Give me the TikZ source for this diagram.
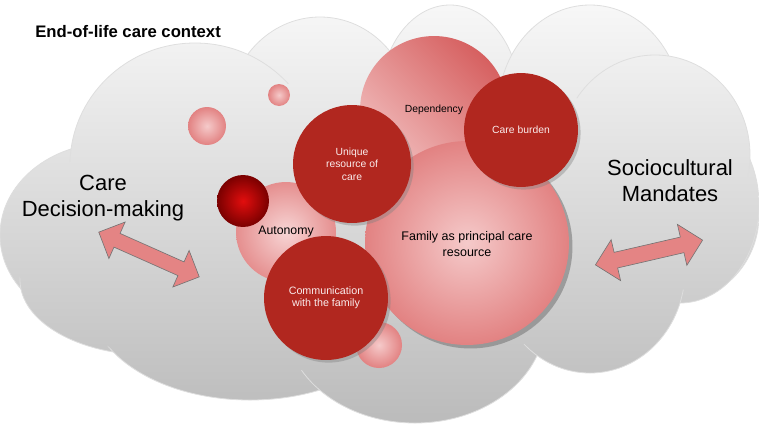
\documentclass[tikz,border=0pt]{standalone}
\usepackage{fontspec}
\setmainfont{Liberation Sans}
\usetikzlibrary{shadows}

\definecolor{cloudtop}{RGB}{248,248,248}
\definecolor{cloudbot}{RGB}{186,186,186}
\definecolor{lobeline}{RGB}{222,222,222}
\definecolor{discred}{RGB}{177,39,31}
\definecolor{disctext}{RGB}{250,236,236}
\definecolor{pinklite}{RGB}{245,202,202}
\definecolor{pinkedge}{RGB}{226,130,130}
\definecolor{deplite}{RGB}{242,192,192}
\definecolor{depdark}{RGB}{214,96,96}
\definecolor{spherecore}{RGB}{226,14,14}
\definecolor{sphereedge}{RGB}{122,0,0}
\definecolor{arrowlite}{RGB}{247,208,208}
\definecolor{arrowdark}{RGB}{228,132,132}

\tikzset{
  lobe/.style={draw=lobeline, line width=.45pt},
  rad/.style={minimum size=#1*0.04cm},
  disc/.style={circle, inner sep=0pt, align=center},
  darkdisc/.style={disc, fill=discred, text=disctext,
    drop shadow={opacity=.4, shadow xshift=1.5pt, shadow yshift=-1.5pt}},
  pinkdisc/.style={disc, inner color=pinklite, outer color=pinkedge},
  dblarrow/.style={draw=black!55, line width=.35pt,
    left color=arrowdark, middle color=arrowlite, right color=arrowdark},
  mandate/.style={align=center, inner sep=0pt, font=\fontsize{12.5}{14.7}\selectfont},
  smalltxt/.style={font=\fontsize{5.9}{7.1}\selectfont},
}

% one lobe of the cloud, shaded with the common gradient
\newcommand\cloudlobe[4]{%
  \begin{scope}
    \clip (#1,#2) ellipse [x radius=#3, y radius=#4];
    \shade[top color=cloudtop, bottom color=cloudbot] (0,0) rectangle (759,430);
  \end{scope}
  \draw[lobe] (#1,#2) ellipse [x radius=#3, y radius=#4];}
% same, without outline (fills the inside)
\newcommand\cloudfill[4]{%
  \begin{scope}
    \clip (#1,#2) ellipse [x radius=#3, y radius=#4];
    \shade[top color=cloudtop, bottom color=cloudbot] (0,0) rectangle (759,430);
  \end{scope}}

\begin{document}
\begin{tikzpicture}[x=0.02cm, y=-0.02cm]
\useasboundingbox (0,0) rectangle (759,430);

% cloud
\cloudlobe{320}{115}{92}{98}
\cloudlobe{450}{100}{70}{95}
\cloudlobe{590}{110}{92}{105}
\cloudlobe{110}{235}{110}{92}
\cloudlobe{195}{165}{125}{122}
\cloudlobe{680}{215}{79}{85}
\cloudlobe{680}{205}{79}{98}
\cloudlobe{655}{155}{95}{100}
\cloudlobe{150}{280}{130}{75}
\cloudlobe{250}{300}{160}{100}
\cloudlobe{415}{320}{130}{103}
\cloudlobe{590}{270}{95}{103}
\cloudfill{400}{215}{320}{140}
\cloudfill{110}{240}{100}{85}
\cloudfill{125}{215}{60}{70}
\cloudfill{690}{205}{60}{85}
\cloudfill{240}{320}{150}{55}

\node[font=\bfseries\fontsize{9.5}{11}\selectfont, anchor=base west, inner sep=0pt]
  (context) at (35,37) {End-of-life care context};
\node[mandate] (decision) at (103,198.5) {Care\\Decision-making};
\node[mandate] (mandates) at (670,181) {Sociocultural\\Mandates};

% circles
\node[disc, rad=74, top color=depdark, bottom color=deplite, shading angle=-45,
  smalltxt] (dependency) at (434,110) {Dependency};
\node[pinkdisc, rad=23] (bubble-low) at (379,345) {};
\node[disc, rad=102, inner color=pinklite, outer color=pinkedge,
  drop shadow={opacity=.65, shadow xshift=2pt, shadow yshift=-2pt},
  font=\fontsize{7.1}{9}\selectfont] (family) at (467,243)
  {\\[-3pt]Family as principal care\\resource};
\node[disc, rad=50, inner color=pinklite!80!white, outer color=pinkedge!90!white,
  font=\fontsize{7}{8}\selectfont] (autonomy) at (286,232) {Autonomy};
\node[disc, rad=26, inner color=spherecore, outer color=sphereedge] (core) at (243,201) {};
\node[darkdisc, rad=59, smalltxt] (unique) at (352,164) {Unique\\resource of\\care};
\node[darkdisc, rad=62, font=\fontsize{6.1}{6.9}\selectfont] (communication) at (326,298)
  {Communication\\with the family};
\node[darkdisc, rad=57, smalltxt] (burden) at (521,130) {Care burden};
\node[pinkdisc, rad=11] (bubble-top) at (279,95) {};
\node[pinkdisc, rad=19] (bubble-left) at (207,126) {};

% double arrows
\shade[dblarrow, shift={(149,254.5)}, rotate=-24]
  (-55,0) -- (-35,-20) -- (-35,-7.5) -- (35,-7.5) -- (35,-20) -- (55,0)
  -- (35,20) -- (35,7.5) -- (-35,7.5) -- (-35,20) -- cycle;
\shade[dblarrow, shift={(649,252.5)}, rotate=13]
  (-55,0) -- (-34,-21) -- (-34,-8) -- (34,-8) -- (34,-21) -- (55,0)
  -- (34,21) -- (34,8) -- (-34,8) -- (-34,21) -- cycle;
\end{tikzpicture}
\end{document}
